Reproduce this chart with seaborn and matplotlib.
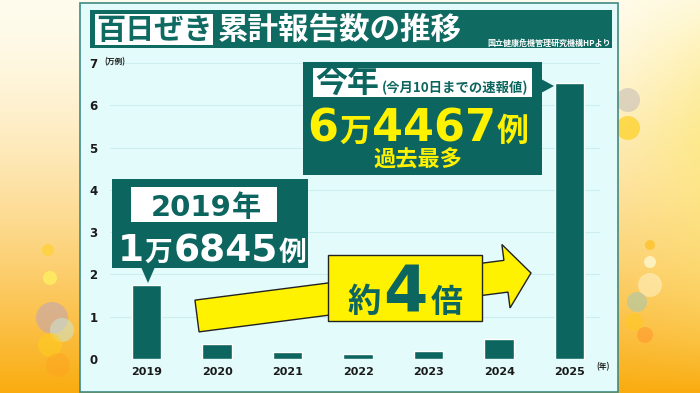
import numpy as np
import pandas as pd
import matplotlib
matplotlib.use("Agg")
import matplotlib.pyplot as plt
import seaborn as sns
from matplotlib.patches import Rectangle, Polygon, Ellipse

# ---- data ----
years = ["2019", "2020", "2021", "2022", "2023", "2024", "2025"]
cases_10k = [1.75, 0.36, 0.16, 0.13, 0.19, 0.48, 6.52]
y_ticks = [0, 1, 2, 3, 4, 5, 6, 7]
title_box = "百日ぜき"
title_main = "累計報告数の推移"
source = "国立健康危機管理研究機構HPより"
y_unit = "(万例)"
x_unit = "(年)"
ann2019_head = [("2019", 21), ("年", 21)]
ann2019_val = [("1", 27), ("万", 20), ("6845", 27), ("例", 20)]
ann2025_head = [("今年", 23), ("(今月10日までの速報値)", 9.6)]
ann2025_val = [("6", 32), ("万", 23), ("4467", 32), ("例", 23)]
ann2025_sub = "過去最多"
ratio_label = [("約", 24), ("4", 46), ("倍", 23)]

TEAL = "#0d655f"
TEAL_T = "#0f6a62"
PANEL = "#e3fbfb"
YEL = "#fff200"

sns.set_theme(style="white")
plt.rcParams["font.family"] = ["Noto Sans CJK JP", "DejaVu Sans"]

W, H = 700, 393
fig = plt.figure(figsize=(7.0, 3.93), dpi=100)

def fx(x):
    return x / W

def fy(y):
    return 1 - y / H

# ---- background gradient ----
bg = fig.add_axes([0, 0, 1, 1], zorder=-10)
yy = np.linspace(0, 1, 200)[:, None]
xx = np.linspace(0, 1, 300)[None, :]
top = np.array([255, 252, 238]) / 255
mid = np.array([253, 232, 110]) / 255
bot = np.array([250, 172, 15]) / 255
t = np.clip(yy ** 1.5, 0, 1)
img = top[None, None, :] * (1 - t[..., None]) + bot[None, None, :] * t[..., None]
wr = np.clip((xx - 0.85) * 6, 0, 1) * np.clip(yy * 2.2 + 0.2, 0, 1) * (1 - t) * 0.85
img = img * (1 - wr[..., None]) + mid[None, None, :] * wr[..., None]
bg.imshow(img, aspect="auto", extent=[0, 1, 0, 1], origin="upper")
for (cx, cy, r, c, a) in [(48, 250, 6, "#ffd23a", 0.8), (50, 278, 7, "#fff060", 0.8),
                          (52, 318, 16, "#b8a0c8", 0.5), (62, 330, 12, "#c8e8e0", 0.5),
                          (50, 345, 12, "#ffcc20", 0.6), (58, 365, 12, "#ffa020", 0.4),
                          (628, 100, 12, "#c8c0b8", 0.6), (628, 128, 12, "#ffd020", 0.7),
                          (650, 245, 5, "#ffc020", 0.7), (650, 262, 6, "#fff8d0", 0.8),
                          (650, 285, 12, "#fff0c0", 0.6), (637, 302, 10, "#a8c8b0", 0.6),
                          (634, 322, 9, "#ffc828", 0.7), (645, 335, 8, "#ff9a30", 0.6)]:
    bg.add_patch(Ellipse((fx(cx), fy(cy)), 2 * r / W, 2 * r / H, color=c, alpha=a, lw=0))
bg.set_xlim(0, 1); bg.set_ylim(0, 1)
bg.axis("off")

# panel
fig.patches.append(Rectangle((fx(80), fy(392)), fx(618) - fx(80), fy(3) - fy(392),
                             transform=fig.transFigure, facecolor=PANEL,
                             edgecolor="#3f8a84", lw=1.2, zorder=-5))

# ---- main axes ----
ax = fig.add_axes([fx(110), fy(359), fx(600) - fx(110), fy(63) - fy(359)])
ax.set_facecolor("none")
df = pd.DataFrame({"year": years, "cases": cases_10k})
sns.barplot(data=df, x="year", y="cases", color=TEAL, width=0.42, saturation=1, ax=ax, zorder=3)
ax.set_xlim(-0.52, 6.43)
ax.set_ylim(0, 7)
ax.set_yticks(y_ticks)
ax.set_yticklabels([str(v) for v in y_ticks])
for v in y_ticks:
    ax.axhline(v, color="#cdeeee", lw=0.8, zorder=1)
for s in ax.spines.values():
    s.set_visible(False)
ax.set_xlabel(""); ax.set_ylabel("")
ax.tick_params(axis="y", length=0, pad=9, labelsize=8.5, labelcolor="#1a1a1a")
ax.tick_params(axis="x", length=0, pad=6, labelsize=8, labelcolor="#1a1a1a")
for lab in ax.get_xticklabels() + ax.get_yticklabels():
    lab.set_fontweight("bold")
    lab.set_fontfamily(["DejaVu Sans"])

fig.text(fx(104), fy(62), y_unit, fontsize=5.5, fontweight="bold", color="#1a1a1a",
         ha="left", va="center")
fig.text(fx(596), fy(367), x_unit, fontsize=5.5, fontweight="bold", color="#1a1a1a",
         ha="left", va="center")

def rect(x0, y0, x1, y1, fc, ec="none", lw=0, z=5):
    fig.patches.append(Rectangle((fx(x0), fy(y1)), fx(x1) - fx(x0), fy(y0) - fy(y1),
                                 transform=fig.transFigure, facecolor=fc, edgecolor=ec,
                                 lw=lw, zorder=z))

def poly(pts, fc, ec="none", lw=0, z=5):
    fig.patches.append(Polygon([(fx(x), fy(y)) for x, y in pts], closed=True,
                               transform=fig.transFigure, facecolor=fc, edgecolor=ec,
                               lw=lw, zorder=z, joinstyle="miter"))

renderer = fig.canvas.get_renderer()

def rich(pieces, cx, ybase, color, gap=1):
    objs, widths = [], []
    for s, size in pieces:
        fam = ["DejaVu Sans"] if s.isdigit() else ["Noto Sans CJK JP", "DejaVu Sans"]
        tt = fig.text(0, fy(ybase), s, fontsize=size, fontweight="bold", color=color,
                      ha="left", va="baseline", zorder=20, family=fam)
        widths.append(tt.get_window_extent(renderer).width)
        objs.append(tt)
    total = sum(widths) + gap * (len(pieces) - 1)
    x = cx - total / 2
    for tt, w in zip(objs, widths):
        tt.set_x(fx(x))
        x += w + gap

# ---- title ----
rect(90, 10, 612, 48, TEAL_T, z=6)
rect(95, 14, 213, 45, "white", z=7)
fig.text(fx(154), fy(30), title_box, fontsize=21, fontweight="bold", color=TEAL_T,
         ha="center", va="center", zorder=20)
fig.text(fx(218), fy(30), title_main, fontsize=22, fontweight="bold", color="white",
         ha="left", va="center", zorder=20)
fig.text(fx(611), fy(43), source, fontsize=5.8, fontweight="bold", color="white",
         ha="right", va="center", zorder=20)

# ---- 2019 annotation ----
rect(112, 179, 308, 268, TEAL, z=6)
poly([(141, 267), (155, 267), (148, 283)], TEAL, z=6)
rect(131, 187, 277, 222, "white", z=7)
rich(ann2019_head, 206, 216, TEAL)
rich(ann2019_val, 212, 261, "white")

# ---- 2025 annotation ----
rect(303, 62, 542, 175, TEAL, z=6)
poly([(541, 79), (541, 93), (554, 86)], TEAL, z=6)
rect(313, 68, 532, 97, "white", z=7)
rich(ann2025_head, 422, 92, TEAL, gap=3)
rich(ann2025_val, 418, 141, YEL)
rich([(ann2025_sub, 16)], 418, 167, YEL)

# ---- arrow ----
c0 = np.array([197.0, 316.0])
tip = np.array([531.0, 273.0])
d = tip - c0
L = np.hypot(*d)
u = d / L
n = np.array([-u[1], u[0]])
hw, hh, hb = 16.0, 32.0, 311.5
pts = [c0 + n * hw, c0 + u * hb + n * hw, c0 + u * hb + n * hh, tip,
       c0 + u * hb - n * hh, c0 + u * hb - n * hw, c0 - n * hw]
poly([tuple(p) for p in pts], YEL, ec="#222222", lw=1.0, z=8)
rect(328, 255, 482, 321, YEL, ec="#222222", lw=1.0, z=9)
rich(ratio_label, 405, 312, TEAL, gap=3)

fig.savefig("out.png", dpi=100)
